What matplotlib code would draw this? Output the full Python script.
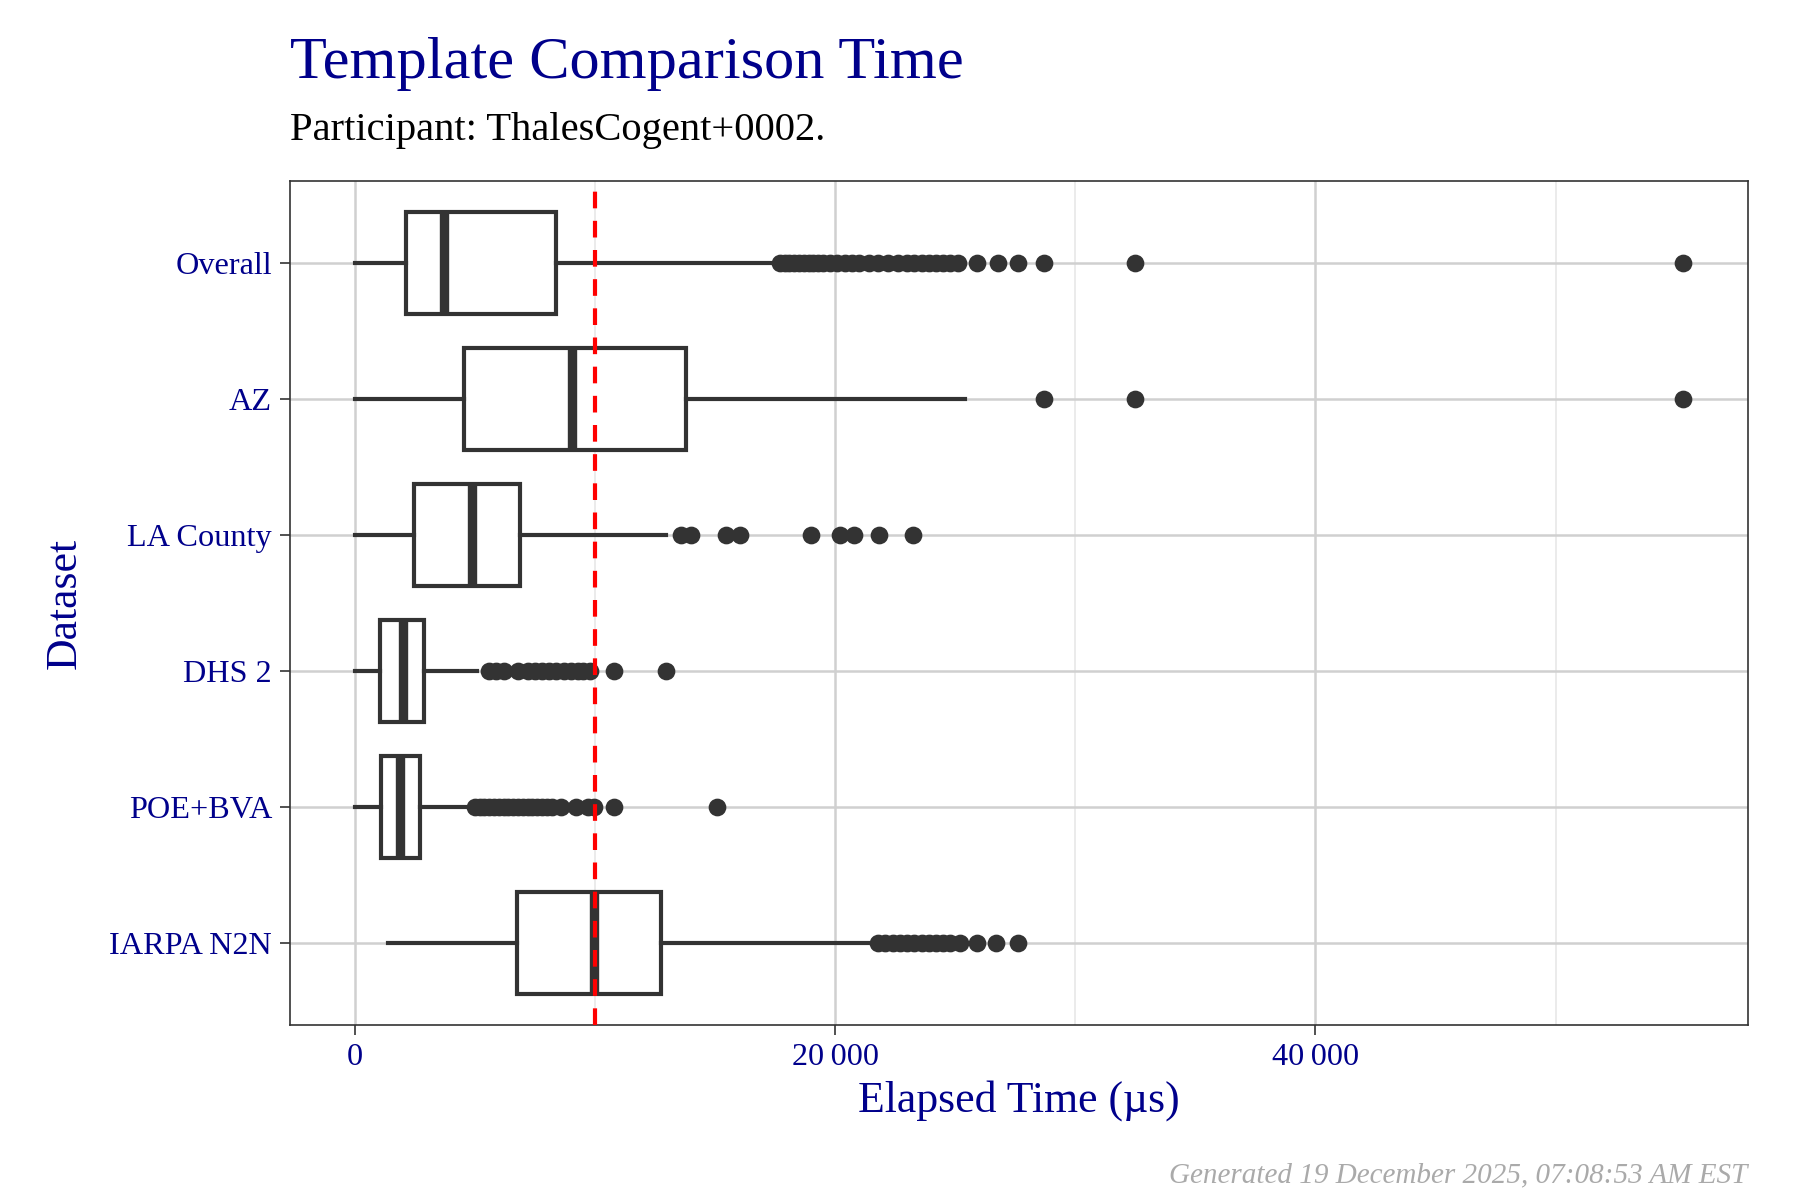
import matplotlib.pyplot as plt
from matplotlib.ticker import FuncFormatter, MultipleLocator

plt.rcParams['font.family'] = ['Liberation Serif', 'DejaVu Serif']

datasets = ['Overall', 'AZ', 'LA County', 'DHS 2', 'POE+BVA', 'IARPA N2N']
whislo = [0, 0, 0, 0, 0, 1400]
q1 = [2150, 4550, 2450, 1060, 1100, 6750]
med = [3700, 9050, 4900, 2020, 1870, 9950]
q3 = [8400, 13800, 6900, 2880, 2740, 12750]
whishi = [17600, 25400, 12950, 5100, 4900, 21700]
fliers = [
    [17700, 17900, 18100, 18300, 18500, 18700, 18900, 19100, 19300, 19500, 19800, 20100, 20400,
     20700, 21000, 21400, 21800, 22200, 22600, 23000, 23300, 23600, 23900, 24200, 24500, 24800,
     25100, 25900, 26800, 27600, 28700, 32500, 55300],
    [28700, 32500, 55300],
    [13600, 14000, 15450, 16050, 19000, 20200, 20800, 21850, 23250],
    [5600, 5900, 6200, 6800, 7200, 7500, 7800, 8100, 8400, 8700, 9000, 9300, 9500, 9800, 10800, 12950],
    [5000, 5200, 5400, 5600, 5800, 6000, 6200, 6400, 6600, 6800, 7000, 7200, 7400, 7600, 7800, 8000,
     8200, 8600, 9200, 9700, 9950, 10800, 15100],
    [21800, 22100, 22400, 22700, 23000, 23300, 23600, 23900, 24200, 24500, 24800, 25200, 25900, 26700, 27600],
]
threshold = 10000

navy = '#00008B'
ink = '#333333'

fig = plt.figure(figsize=(12, 8), dpi=150)
ax = fig.add_axes([0.161, 0.146, 0.81, 0.703])

stats = []
for i in range(len(datasets)):
    stats.append(dict(whislo=whislo[i], q1=q1[i], med=med[i], q3=q3[i],
                      whishi=whishi[i], fliers=fliers[i]))
pos = list(range(len(datasets), 0, -1))
ax.bxp(stats, positions=pos, vert=False, widths=0.75, showcaps=False, patch_artist=True,
       boxprops=dict(facecolor='white', edgecolor=ink, linewidth=2),
       whiskerprops=dict(color=ink, linewidth=2),
       medianprops=dict(color=ink, linewidth=4.5),
       flierprops=dict(marker='o', markerfacecolor=ink, markeredgecolor=ink, markersize=7.5))
for b in ax.patches:
    b.set_zorder(3)
for l in ax.lines:
    l.set_zorder(4)

ax.axvline(threshold, color='red', linestyle=(0, (4, 3)), linewidth=2, zorder=6)

ax.set_xlim(-2700, 58000)
ax.set_ylim(0.4, len(datasets) + 0.6)
ax.set_yticks(pos)
ax.set_yticklabels(datasets)
ax.xaxis.set_major_locator(MultipleLocator(20000))
ax.xaxis.set_minor_locator(MultipleLocator(10000))
ax.xaxis.set_major_formatter(FuncFormatter(lambda v, p: f'{int(v):,}'.replace(',', '\u2009') if v else '0'))
ax.grid(True, which='major', color='#d0d0d0', linewidth=1.2, zorder=0)
ax.grid(True, which='minor', axis='x', color='#e8e8e8', linewidth=0.8, zorder=0)
ax.set_axisbelow(True)
for s in ax.spines.values():
    s.set_color(ink)
ax.tick_params(axis='both', colors=ink, labelcolor=navy, labelsize=15.5, length=5)
ax.tick_params(which='minor', length=0)

ax.set_xlabel('Elapsed Time (µs)', color=navy, fontsize=21, labelpad=4)
ax.set_ylabel('Dataset', color=navy, fontsize=21, labelpad=12)

fig.text(0.161, 0.935, 'Template Comparison Time', color=navy, fontsize=29)
fig.text(0.161, 0.883, 'Participant: ThalesCogent+0002.', color='black', fontsize=19.5)
fig.text(0.971, 0.015, 'Generated 19 December 2025, 07:08:53 AM EST', color='#aaaaaa',
         fontsize=14, style='italic', ha='right')

fig.savefig('out.png', dpi=150)
